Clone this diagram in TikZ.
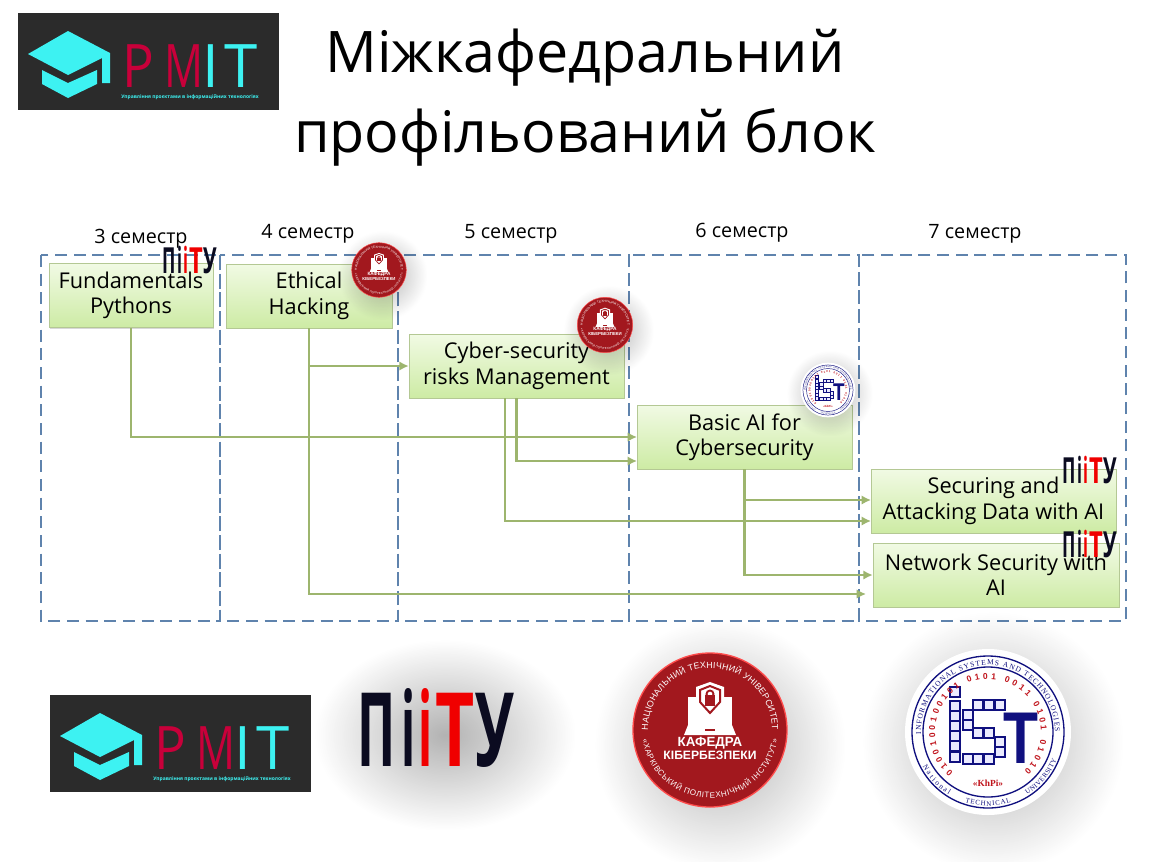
\documentclass[tikz,border=0pt]{standalone}
\usepackage{fontspec}
\setmainfont{Open Sans}
\newfontfamily\logofont{Liberation Sans}
\newfontfamily\serfont{Liberation Serif}
\usetikzlibrary{arrows.meta,shadows,fadings,decorations.text}

\definecolor{dashblue}{HTML}{5F83AD}
\definecolor{linkgreen}{HTML}{9DB56E}
\definecolor{boxedge}{HTML}{B4C894}
\definecolor{boxtop}{HTML}{F1FAE4}
\definecolor{boxbottom}{HTML}{CDEBA4}
\definecolor{pmitdark}{HTML}{2B2B2B}
\definecolor{pmitcyan}{HTML}{3DF2F2}
\definecolor{pmitred}{HTML}{C8003A}
\definecolor{sealred}{HTML}{A2181E}
\definecolor{piitydark}{HTML}{0B0B20}
\definecolor{piityred}{HTML}{F00000}
\definecolor{istblue}{HTML}{10107F}
\definecolor{istred}{HTML}{C0141C}

\tikzfading[name=softglow, inner color=transparent!45, outer color=transparent!100]

\tikzset{
  column/.style={draw=dashblue, line width=1.5pt, dash pattern=on 9pt off 5pt},
  course/.style={draw=boxedge, top color=boxtop, bottom color=boxbottom, align=center,
    minimum height=48pt, inner sep=0pt, font=\fontsize{16.3}{19}\selectfont,
    execute at begin node={\rule{0pt}{20pt}},
    drop shadow={shadow xshift=1pt, shadow yshift=-1pt, opacity=.3}},
  link/.style={draw=linkgreen, line width=2.2pt, -{Latex[length=7pt,width=7pt]}},
  term/.style={font=\fontsize{14.8}{17}\selectfont},
  softshadow/.style={fill=black, opacity=.55, path fading=softglow, fit fading=true},
  pmitletter/.style={anchor=base, inner sep=0pt, font=\fontsize{45}{45}\selectfont},
  piityletter/.style={anchor=base, inner sep=0pt, transform shape,
    font=\fontsize{77}{77}\selectfont\bfseries}
}

% logos, x y of the top left corner or of the centre
\newcommand{\pmitlogo}[1]{
\begin{scope}[shift={(#1)}]
  \fill[pmitdark] (0,0) rectangle (261,97);
  \fill[pmitcyan] (50,18) -- (10,41) -- (50,62) -- (84,45) -- (84,70) -- (92,70) -- (92,40) -- cycle;
  \fill[pmitcyan] (24,57) -- (50,70) -- (79,57) -- (79,71) -- (50,85) -- (24,71) -- cycle;
  \node[pmitletter, text=pmitred, xscale=.88] (pmitP) at (120,74) {P};
  \node[pmitletter, text=pmitred, xscale=.72] (pmitM) at (166,74) {M};
  \node[pmitletter, text=pmitcyan] (pmitI) at (193,74) {I};
  \node[pmitletter, text=pmitcyan] (pmitT) at (223,74) {T};
  \node[text=pmitcyan, inner sep=0pt, font=\fontsize{3.7}{5}\selectfont\bfseries] (pmitSub) at (172,84)
    {Управління проєктами в інформаційних технологіях};
\end{scope}
}
\newcommand{\piitylogo}[2]{
\begin{scope}[shift={(#1)}, scale=#2]
  \node[piityletter, text=piitydark, xscale=.5] (piP) at (16.5,73) {П};
  \node[piityletter, text=piitydark, xscale=.45] (piA) at (49,73) {і};
  \node[piityletter, text=piityred, xscale=.45] (piB) at (66,73) {і};
  \node[piityletter, text=piityred, xscale=.66] (piT) at (95,73) {Т};
  \node[piityletter, text=piitydark, xscale=.58] (piU) at (135,73) {У};
\end{scope}
}
\newcommand{\seallogo}[2]{
\begin{scope}[shift={(#1)}, scale=#2]
  \fill[softshadow] (-115,-110) rectangle (135,140);
  \fill[sealred] (0,0) circle (77);
  \draw[red!70!white, line width=#2*1pt] (0,0) circle (77);
  \fill[white] (-22,-33) rectangle (22,-5);
  \fill[white] (-22,-5) -- (22,-5) -- (26,5) -- (-26,5) -- cycle;
  \fill[sealred] (-5,-1) rectangle (5,1);
  \fill[white] (0,-48) -- (-14,-43) -- (-14,-27) -- (0,-12) -- (14,-27) -- (14,-43) -- cycle;
  \draw[sealred, line width=#2*1.5pt] (0,-44) -- (-10,-40) -- (-10,-28) -- (0,-17) -- (10,-28) -- (10,-40) -- cycle;
  \fill[sealred] (-5,-35) rectangle (5,-24);
  \draw[sealred, line width=#2*1.4pt] (0,-36) circle (3.5);
  \node[white, inner sep=0pt, transform shape, font=\logofont\fontsize{10}{10}\selectfont\bfseries] (sealA) at (0,13) {КАФЕДРА};
  \node[white, inner sep=0pt, transform shape, font=\logofont\fontsize{9.1}{10}\selectfont\bfseries] (sealB) at (0,25) {КІБЕРБЕЗПЕКИ};
  \path[decorate, decoration={text along path, text align={fit to path},
    text={|\logofont\fontsize{\fpeval{6.6*#2}}{8}\selectfont\color{white}|НАЦІОНАЛЬНИЙ ТЕХНІЧНИЙ УНІВЕРСИТЕТ}}]
    (180:62) arc[start angle=180, end angle=360, radius=62];
  \path[decorate, decoration={text along path, text align={fit to path},
    text={|\logofont\fontsize{\fpeval{6*#2}}{8}\selectfont\color{white}|«ХАРКІВСЬКИЙ ПОЛІТЕХНІЧНИЙ ІНСТИТУТ»}}]
    (172:68) arc[start angle=172, end angle=8, radius=68];
\end{scope}
}
\newcommand{\istlogo}[2]{
\begin{scope}[shift={(#1)}, scale=#2]
  \fill[softshadow] (-125,-120) rectangle (135,140);
  \fill[white] (0,0) circle (83);
  \draw[istblue, line width=#2*1pt] (0,0) circle (76);
  \draw[istblue, line width=#2*1pt] (0,0) circle (65);
  \foreach \x/\y in {-33/-40,-33/-26,-33/-16,-33/-6,-33/4,-33/14,-33/25,
    -10/-27,1/-27,12/-27,-20/-17,-20/-7,-10/1,1/1,12/10,12/20,-20/27,-10/27,1/27}
    \draw[istblue, fill=blue!8, line width=#2*1.4pt] (\x-5,\y-5) rectangle +(10,10);
  \node[anchor=base, inner sep=0pt, text=istblue, transform shape, xscale=.78,
    font=\logofont\fontsize{55}{55}\selectfont\bfseries] (istT) at (33,31) {T};
  \node[inner sep=0pt, text=istred, transform shape,
    font=\serfont\fontsize{7}{8}\selectfont\bfseries] (istKh) at (0,51) {«KhPi»};
  \path[decorate, decoration={text along path, text align={fit to path},
    text={|\logofont\fontsize{\fpeval{6.4*#2}}{8}\selectfont\bfseries\color{istred}|0100100100101 0101 0011 0101 01010}}]
    (131:53) arc[start angle=131, end angle=407, radius=53];
  \path[decorate, decoration={text along path, text align={fit to path},
    text={|\serfont\fontsize{\fpeval{5.6*#2}}{8}\selectfont\color{istblue}|INFORMATIONAL SYSTEMS AND TECHNOLOGIES}}]
    (178:67) arc[start angle=178, end angle=360, radius=67];
  \path[decorate, decoration={text along path, text align={fit to path},
    text={|\serfont\fontsize{\fpeval{5.6*#2}}{8}\selectfont\color{istblue}|National}}]
    (152:74) arc[start angle=152, end angle=122, radius=74];
  \path[decorate, decoration={text along path, text align={fit to path},
    text={|\serfont\fontsize{\fpeval{5.2*#2}}{8}\selectfont\color{istblue}|TECHNICAL}}]
    (108:74) arc[start angle=108, end angle=72, radius=74];
  \path[decorate, decoration={text along path, text align={fit to path},
    text={|\serfont\fontsize{\fpeval{5.2*#2}}{8}\selectfont\color{istblue}|UNIVERSITY}}]
    (58:74) arc[start angle=58, end angle=22, radius=74];
\end{scope}
}

\begin{document}
\begin{tikzpicture}[x=.75pt,y=-.75pt]

\useasboundingbox (0,0) rectangle (1164,861);
\fill[white] (0,0) rectangle (1164,861);

\node[align=center, inner sep=0pt, font=\fontsize{43}{60}\selectfont] (title) at (585,98)
  {Міжкафедральний\\профільований блок};

% columns
\foreach \xa/\xb in {41/220,220/398,398/629,629/859,859/1126}
  \draw[column] (\xa,255) rectangle (\xb,621);

\node[term] (termC) at (141,239) {3 семестр};
\node[term] (termD) at (308,234) {4 семестр};
\node[term] (termE) at (511,234) {5 семестр};
\node[term] (termF) at (742,233) {6 семестр};
\node[term] (termG) at (975,234) {7 семестр};

% courses
\node[course, minimum width=123pt] (fund) at (131,295.5) {Fundamentals\\Pythons};
\node[course, minimum width=124.5pt] (ethical) at (309,296) {Ethical\\Hacking};
\node[course, minimum width=161.25pt] (cyber) at (516.5,366) {Cyber-security\\risks Management};
\node[course, minimum width=161.25pt] (basic) at (744.5,437) {Basic AI for\\Cybersecurity};
\node[course, minimum width=183.75pt] (securing) at (993.5,501) {Securing and\\Attacking Data with AI};
\node[course, minimum width=184.5pt] (network) at (996,575) {Network Security with\\AI};

\coordinate (inBasicA) at (637,437);
\coordinate (inBasicB) at (637,461);
\coordinate (inSecuringA) at (871,500);
\coordinate (inSecuringB) at (871,521);
\coordinate (inNetwork) at (866,594);
\coordinate (outCyber) at (505,398);
\coordinate (forkEthical) at (309,366);
\coordinate (forkBasic) at (744.5,500);

\draw[link] (fund.south) |- (inBasicA);
\draw[link] (ethical.south) |- (inNetwork);
\draw[link] (forkEthical) -- (cyber.west);
\draw[link] (cyber.south) |- (inBasicB);
\draw[link] (outCyber) |- (inSecuringB);
\draw[link] (basic.south) |- (network.west);
\draw[link] (forkBasic) -- (inSecuringA);

% logos on the courses
\piitylogo{163,248}{.35}
\seallogo{379,270}{.355}
\seallogo{605,325}{.36}
\istlogo{828,390}{.33}
\piitylogo{1063,458}{.35}
\piitylogo{1063,532}{.35}

% logos on their own
\pmitlogo{18,13}
\pmitlogo{50,695}
\fill[softshadow] (315,640) rectangle (575,830);
\piitylogo{360,693}{1}
\seallogo{710,730}{1}
\istlogo{988,732}{1}

\end{tikzpicture}
\end{document}
